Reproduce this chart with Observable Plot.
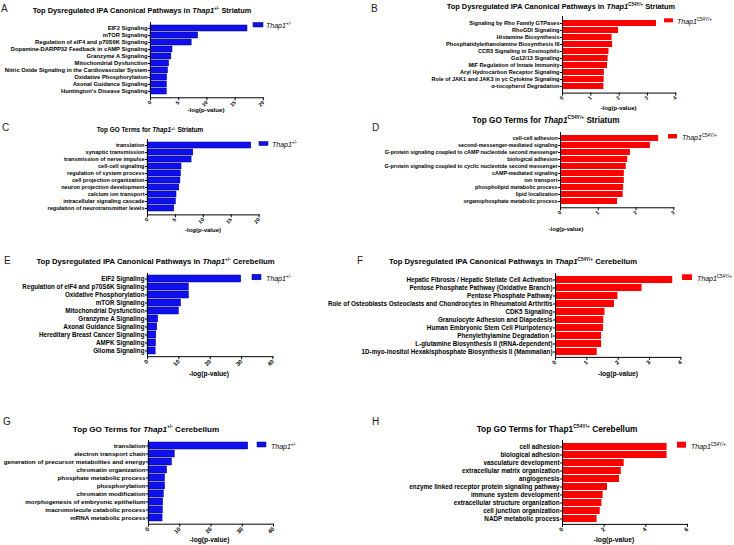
<!DOCTYPE html>
<html><head><meta charset="utf-8">
<script src="https://cdn.jsdelivr.net/npm/d3@7"></script>
<script src="https://cdn.jsdelivr.net/npm/@observablehq/plot@0.6"></script>
<style>
body{margin:0;background:#fff;}
#fig{position:relative;width:734px;height:545px;overflow:hidden;background:#fff;font-family:"Liberation Sans",Arial,sans-serif;}
.panel{position:absolute;}
.panel svg{overflow:visible;background:transparent;max-width:none;}
#overlay{position:absolute;left:0;top:0;}
</style></head><body><div id="fig"></div>
<script>
// ---------- DATA ----------
const termsA = ["EIF2 Signaling","mTOR Signaling","Regulation of eIF4 and p70S6K Signaling","Dopamine-DARPP32 Feedback in cAMP Signaling","Granzyme A Signaling","Mitochondrial Dysfunction","Nitric Oxide Signaling in the Cardiovascular System","Oxidative Phosphorylation","Axonal Guidance Signaling","Huntington's Disease Signaling"];
const valuesA = [17.2, 8.45, 7.3, 3.9, 3.7, 3.3, 3.1, 2.95, 2.9, 2.9];

const termsB = ["Signaling by Rho Family GTPases","RhoGDI Signaling","Histamine Biosynthesis","Phosphatidylethanolamine Biosynthesis III","CCR3 Signaling in Eosinophils","Gα12/13 Signaling","MIF Regulation of Innate Immunity","Aryl Hydrocarbon Receptor Signaling","Role of JAK1 and JAK3 in γc Cytokine Signaling","α-tocopherol Degradation"];
const valuesB = [3.32, 1.98, 1.75, 1.77, 1.64, 1.61, 1.59, 1.48, 1.47, 1.46];

const termsC = ["translation","synaptic transmission","transmission of nerve impulse","cell-cell signaling","regulation of system process","cell projection organization","neuron projection development","calcium ion transport","intracellular signaling cascade","regulation of neurotransmitter levels"];
const valuesC = [18.6, 8.2, 7.9, 6.1, 6.0, 5.9, 5.7, 5.2, 5.1, 4.8];

const termsD = ["cell-cell adhesion","second-messenger-mediated signaling","G-protein signaling coupled to cAMP nucleotide second messenger","biological adhesion","G-protein signaling coupled to cyclic nucleotide second messenger","cAMP-mediated signaling","ion transport","phospholipid metabolic process","lipid localization","organophosphate metabolic process"];
const valuesD = [2.6, 2.38, 1.85, 1.78, 1.74, 1.69, 1.69, 1.67, 1.66, 1.51];

const termsE = ["EIF2 Signaling","Regulation of eIF4 and p70S6K Signaling","Oxidative Phosphorylation","mTOR Signaling","Mitochondrial Dysfunction","Granzyme A Signaling","Axonal Guidance Signaling","Hereditary Breast Cancer Signaling","AMPK Signaling","Glioma Signaling"];
const valuesE = [29.9, 13.2, 13.2, 10.7, 10.0, 3.4, 3.1, 2.8, 2.7, 2.6];

const termsF = ["Hepatic Fibrosis / Hepatic Stellate Cell Activation","Pentose Phosphate Pathway (Oxidative Branch)","Pentose Phosphate Pathway","Role of Osteoblasts Osteoclasts and Chondrocytes in Rheumatoid Arthritis","CDK5 Signaling","Granulocyte Adhesion and Diapedesis","Human Embryonic Stem Cell Pluripotency","Phenylethylamine Degradation I","L-glutamine Biosynthesis II (tRNA-dependent)","1D-myo-inositol Hexakisphosphate Biosynthesis II (Mammalian)"];
const valuesF = [3.74, 2.76, 1.99, 1.88, 1.58, 1.54, 1.53, 1.47, 1.47, 1.33];

const termsG = ["translation","electron transport chain","generation of precursor metabolites and energy","chromatin organization","phosphate metabolic process","phosphorylation","chromatin modification","morphogenesis of embryonic epithelium","macromolecule catabolic process","mRNA metabolic process"];
const valuesG = [31.9, 8.4, 7.5, 5.95, 5.3, 5.3, 4.9, 4.7, 4.6, 4.5];

const termsH = ["cell adhesion","biological adhesion","vasculature development","extracellular matrix organization","angiogenesis","enzyme linked receptor protein signaling pathway","immune system development","extracellular structure organization","cell junction organization","NADP metabolic process"];
const valuesH = [5.02, 5.02, 2.96, 2.82, 2.74, 2.16, 1.95, 1.89, 1.81, 1.66];

const ticks20 = [0, 5, 10, 15, 20];
const ticks40 = [0, 10, 20, 30, 40];
const ticks4 = [0, 1, 2, 3, 4];
const ticks3 = [0, 1, 2, 3];
const ticks6 = [0, 2, 4, 6];

const axisLabel = "-log(p-value)";
const hetLabel = "+/-";
const mutLabel = "C54Y/+";

// ---------- LAYOUT ----------
const BLUE = "#1010ee", BLUE_EDGE = "#000070", RED = "#ff0000";
const panels = [
  {letter:"A", terms:termsA, values:valuesA, ticks:ticks20, x0:149.5, x1:262.3, yTop:21.5, yBot:96.8, fs:5.8, tfs:5.2, fill:BLUE, stroke:BLUE_EDGE,
   title:{pre:"Top Dysregulated IPA Canonical Pathways in  ", ital:true, sup:hetLabel, post:" Striatum", cx:142, by:13, fs:7.4},
   lx:1, ly:12, leg:{x:253, y:22.5, w:10, h:4.5, tx:266, ty:28, sup:hetLabel}, ax:{cx:206, by:112}},
  {letter:"B", terms:termsB, values:valuesB, ticks:ticks4, x0:561.7, x1:675, yTop:15.6, yBot:92.2, fs:5.6, tfs:5.2, fill:RED, stroke:"none",
   title:{pre:"Top Dysregulated IPA Canonical Pathways in  ", ital:true, sup:mutLabel, post:" Striatum", cx:561, by:8.5, fs:7.4},
   lx:371, ly:12, leg:{x:664, y:18.3, w:9, h:4, tx:677, ty:23.5, sup:mutLabel}, ax:{cx:618.5, by:109.5}},
  {letter:"C", terms:termsC, values:valuesC, ticks:ticks20, x0:146.7, x1:258.3, yTop:139.2, yBot:214.6, fs:5.6, tfs:5.2, fill:BLUE, stroke:BLUE_EDGE,
   title:{pre:"Top GO Terms for ", ital:true, sup:hetLabel, post:" Striatum", cx:150, by:132.3, fs:6.4},
   lx:2, ly:131, leg:{x:259, y:141.5, w:9, h:4, tx:272, ty:147, sup:hetLabel}, ax:{cx:203, by:232}},
  {letter:"D", terms:termsD, values:valuesD, ticks:ticks3, x0:560, x1:673.3, yTop:131.9, yBot:207.2, fs:5.4, tfs:5.2, fill:RED, stroke:"none",
   title:{pre:"Top GO Terms for  ", ital:true, sup:mutLabel, post:" Striatum", cx:546, by:122.5, fs:8.2},
   lx:372, ly:131, leg:{x:668, y:134, w:9, h:4.5, tx:682, ty:139.5, sup:mutLabel}, ax:{cx:566, by:231}},
  {letter:"E", terms:termsE, values:valuesE, ticks:ticks40, x0:147.3, x1:272.7, yTop:272.8, yBot:356, fs:6.3, tfs:5.8, fill:BLUE, stroke:BLUE_EDGE,
   title:{pre:"Top Dysregulated IPA Canonical Pathways in  ", ital:true, sup:hetLabel, post:" Cerebellum", cx:155.5, by:263.5, fs:7.7},
   lx:4, ly:264, leg:{x:252, y:274.3, w:9, h:5.5, tx:266, ty:281, sup:hetLabel}, ax:{cx:209, by:375.5}},
  {letter:"F", terms:termsF, values:valuesF, ticks:ticks4, x0:555.3, x1:680.7, yTop:273.1, yBot:357, fs:6.3, tfs:5.8, fill:RED, stroke:"none",
   title:{pre:"Top Dysregulated IPA Canonical Pathways in  ", ital:true, sup:mutLabel, post:" Cerebellum", cx:513, by:263.5, fs:7.7},
   lx:357, ly:264, leg:{x:682, y:274.3, w:10, h:5.7, tx:697, ty:281, sup:mutLabel}, ax:{cx:618, by:375.5}},
  {letter:"G", terms:termsG, values:valuesG, ticks:ticks40, x0:147.7, x1:272.7, yTop:439.8, yBot:523.5, fs:6.25, tfs:5.8, fill:BLUE, stroke:BLUE_EDGE,
   title:{pre:"Top GO Terms for ", ital:true, sup:hetLabel, post:" Cerebellum", cx:146, by:431.5, fs:8.1},
   lx:3, ly:425, leg:{x:257, y:442, w:9, h:5, tx:271, ty:448.5, sup:hetLabel}, ax:{cx:209.5, by:542}},
  {letter:"H", terms:termsH, values:valuesH, ticks:ticks6, x0:561.7, x1:686.7, yTop:440.1, yBot:524, fs:6.35, tfs:5.8, fill:RED, stroke:"none",
   title:{pre:"Top GO Terms for ", ital:false, sup:mutLabel, post:" Cerebellum", cx:557, by:431.5, fs:8.3},
   lx:372, ly:425, leg:{x:677, y:441.7, w:9, h:6, tx:691, ty:448.5, sup:mutLabel}, ax:{cx:614, by:542}}
];

const fig = document.getElementById("fig");
const FONT = '"Liberation Sans", Arial, sans-serif';

for (const p of panels) {
  const ML = 2, MR = 2, MT = 0, MB = 0;
  const W = ML + (p.x1 - p.x0) + MR;
  const H = MT + (p.yBot - p.yTop) + MB;
  const data = p.terms.map((t, i) => ({term: t, value: p.values[i]}));
  const chart = Plot.plot({
    width: W, height: H,
    marginLeft: ML, marginRight: MR, marginTop: MT, marginBottom: MB,
    style: {background: "transparent", overflow: "visible", fontFamily: FONT, fontWeight: "bold", color: "#000"},
    x: {domain: [0, p.ticks[p.ticks.length - 1]]},
    y: {domain: p.terms, paddingInner: 0.16, paddingOuter: 0.08},
    marks: [
      Plot.barX(data, {x: "value", y: "term", fill: p.fill, stroke: p.stroke, strokeWidth: 0.5}),
      Plot.axisY({tickSize: 2, tickPadding: 1, label: null, fontSize: p.fs}),
      Plot.axisX(p.ticks, {tickSize: 3, tickPadding: 1, tickRotate: -45, label: null, fontSize: p.tfs, tickFormat: d => String(d)}),
      Plot.ruleX([0], {strokeWidth: 1}),
      Plot.frame({anchor: "bottom", strokeWidth: 1})
    ]
  });
  const div = document.createElement("div");
  div.className = "panel";
  div.style.left = (p.x0 - ML) + "px";
  div.style.top = (p.yTop - MT) + "px";
  div.style.width = W + "px";
  div.appendChild(chart);
  fig.appendChild(div);
}

// ---------- TEXT OVERLAY ----------
const svg = d3.select(fig).append("svg").attr("id", "overlay")
  .attr("width", 734).attr("height", 545)
  .style("font-family", FONT).style("pointer-events", "none");

for (const p of panels) {
  svg.append("text").attr("x", p.lx).attr("y", p.ly).attr("font-size", 10).attr("fill", "#222").text(p.letter);
  const t = p.title;
  const tt = svg.append("text").attr("x", t.cx).attr("y", t.by).attr("text-anchor", "middle")
    .attr("font-size", t.fs).attr("font-weight", "bold");
  tt.append("tspan").text(t.pre);
  tt.append("tspan").attr("font-style", t.ital ? "italic" : "normal").text("Thap1");
  tt.append("tspan").attr("font-size", t.fs * 0.6).attr("dy", -t.fs * 0.38).text(t.sup);
  tt.append("tspan").attr("dy", t.fs * 0.38).text(t.post);
  const L = p.leg;
  svg.append("rect").attr("x", L.x).attr("y", L.y).attr("width", L.w).attr("height", L.h)
    .attr("fill", p.fill).attr("stroke", p.stroke === "none" ? "none" : p.stroke).attr("stroke-width", 0.5);
  const lt = svg.append("text").attr("x", L.tx).attr("y", L.ty).attr("font-size", 7).attr("font-style", "italic");
  lt.append("tspan").text("Thap1");
  lt.append("tspan").attr("font-size", 4.5).attr("dy", -3).attr("font-style", "normal").text(L.sup);
  svg.append("text").attr("x", p.ax.cx).attr("y", p.ax.by).attr("text-anchor", "middle")
    .attr("font-size", p.fs + 0.4).attr("font-weight", "bold").text(axisLabel);
}
</script>
</body></html>
